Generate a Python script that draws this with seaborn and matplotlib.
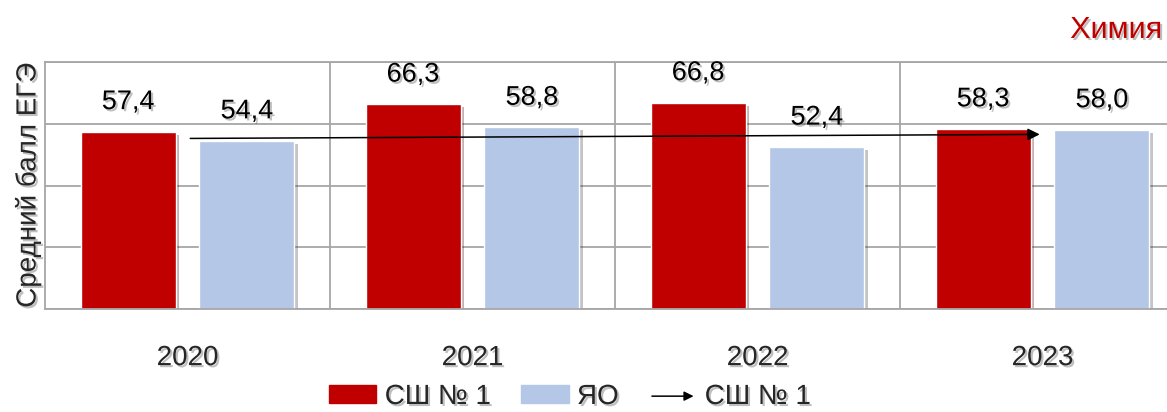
import numpy as np
import pandas as pd
import seaborn as sns
import matplotlib.pyplot as plt
import matplotlib.patheffects as pe
from matplotlib.patches import FancyArrowPatch, Patch
from matplotlib.legend_handler import HandlerBase

years = ["2020", "2021", "2022", "2023"]
school = [57.4, 66.3, 66.8, 58.3]
region = [54.4, 58.8, 52.4, 58.0]
groups = ["СШ № 1", "ЯО"]
colors = ["#c00000", "#b4c7e7"]

df = pd.DataFrame({
    "year": years * 2,
    "score": school + region,
    "group": [groups[0]] * len(years) + [groups[1]] * len(years),
})

sns.set_theme(style="white")
plt.rcParams["font.family"] = ["Liberation Sans Narrow", "Liberation Sans", "DejaVu Sans"]

shadow_text = [pe.withSimplePatchShadow(offset=(1.5, -1.5), shadow_rgbFace="black", alpha=0.25)]

fig = plt.figure(figsize=(11.67, 4.12), dpi=100)
ax = fig.add_axes([45 / 1167, 103 / 412, 1140 / 1167, 247 / 412])

sns.barplot(data=df, x="year", y="score", hue="group", palette=colors,
            width=0.833, gap=0.2, ax=ax, legend=False, saturation=1)

for patch in ax.patches:
    patch.set_path_effects([pe.SimplePatchShadow(offset=(2.5, -2), alpha=0.3), pe.Normal()])

for cont in ax.containers:
    labels = ax.bar_label(cont, labels=[f"{v:.1f}".replace(".", ",") for v in cont.datavalues],
                          padding=12, fontsize=19.5, color="black")
    for t in labels:
        t.set_path_effects(shadow_text)

# linear trend of regional scores, drawn as arrow
xs = np.arange(len(years))
k, b = np.polyfit(xs, region, 1)
ax.annotate("", xy=(xs[-1], k * xs[-1] + b), xytext=(xs[0], k * xs[0] + b),
            arrowprops=dict(arrowstyle="-|>", color="black", lw=1.1, mutation_scale=18))

ax.set_ylim(0, 80)
ax.set_xlim(-0.5, 3.5)
ax.set_yticks([0, 20, 40, 60, 80])
ax.set_yticklabels([])
ax.grid(axis="y", color="#a6a6a6", lw=1.3)
for xv in [0.5, 1.5, 2.5]:
    ax.axvline(xv, color="#a6a6a6", lw=1.3, zorder=0)
ax.set_axisbelow(True)
for s in ax.spines.values():
    s.set_color("#a6a6a6")
    s.set_linewidth(1.3)
ax.tick_params(axis="both", length=0)
ax.tick_params(axis="x", pad=26, labelsize=20)
for t in ax.get_xticklabels():
    t.set_path_effects(shadow_text)
ax.set_xlabel("")
ax.set_ylabel("Средний балл ЕГЭ", fontsize=20, labelpad=-1)
ax.yaxis.label.set_path_effects(shadow_text)

fig.text(1162 / 1167, 1 - 30 / 412, "Химия", color="#c00000", fontsize=22,
         ha="right", va="center", path_effects=shadow_text)


class ArrowHandler(HandlerBase):
    def create_artists(self, legend, orig, xd, yd, w, h, fontsize, trans):
        a = FancyArrowPatch((xd, yd + h / 2), (xd + w, yd + h / 2), arrowstyle="-|>",
                            mutation_scale=14, color="black", lw=1.1, transform=trans)
        return [a]


arrow_key = FancyArrowPatch((0, 0), (1, 0))
handles = [Patch(color=colors[0]), Patch(color=colors[1]), arrow_key]
leg = fig.legend(handles, [groups[0], groups[1], groups[0]], loc="center",
                 bbox_to_anchor=(570 / 1167, 1 - 397 / 412), ncol=3, frameon=False,
                 fontsize=20, handlelength=1.7, handleheight=0.6, handletextpad=0.3,
                 columnspacing=1.1, handler_map={FancyArrowPatch: ArrowHandler()})
for t in leg.get_texts():
    t.set_path_effects(shadow_text)

fig.savefig("out.png", dpi=100)
